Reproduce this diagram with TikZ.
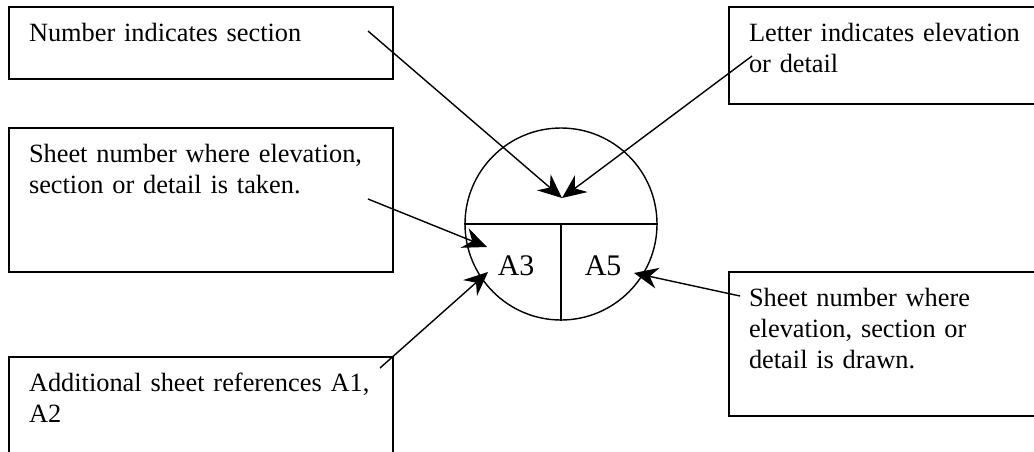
\documentclass[tikz,border=0pt]{standalone}
\usepackage{fontspec}
\setmainfont{Liberation Serif}
\usetikzlibrary{arrows.meta}
\hyphenpenalty=10000
\exhyphenpenalty=10000
\begin{document}
\begin{tikzpicture}[
	note/.style={draw, line width=0.9pt, anchor=north west, outer sep=0pt, inner xsep=0.4cm, inner ysep=0.32cm, text width=#1, align=left, text height=0.36cm, font=\fontsize{15}{17.7}\selectfont},
	pointer/.style={line width=0.8pt, -{Stealth[length=0.48cm, width=0.42cm, inset=0.16cm]}},
	sheet/.style={anchor=base, font=\fontsize{17}{20}\selectfont}
]
	        \clip (0, 0) rectangle (20.68, 9.02);
	        % text boxes
	        \node [note=6.88cm, text depth=0.44cm] at (0.18, 8.88) (Nsec) {Number indicates section};
	        \node [note=6.88cm, text depth=1.88cm] at (0.18, 6.46) (Taken) {Sheet number where elevation,\\ section or detail is taken.};
	        \node [note=6.88cm, text depth=1.40cm] at (0.18, 1.88) (Addl) {Additional sheet references A1,\\ A2};
	        \node [note=5.6cm, text depth=0.94cm] at (14.58, 8.88) (Lett) {Letter indicates elevation\\ or detail};
	        \node [note=5.6cm, text depth=1.88cm] at (14.58, 3.58) (Drawn) {Sheet number where\\ elevation, section or\\ detail is drawn.};
	        % section symbol
	        \node [draw, circle, line width=0.8pt, minimum size=3.84cm, inner sep=0pt] at (11.22, 4.54) (Ref) {};
	        \draw [line width=0.8pt] (Ref.west) -- (Ref.east);
	        \draw [line width=0.8pt] (Ref.center) -- (Ref.south);
	        \node [sheet] at (10.32, 3.52) (SheetL) {A3};
	        \node [sheet] at (12.06, 3.52) (SheetR) {A5};
	        % arrow ends
	        \coordinate (NsecS) at (7.36, 8.40);
	        \coordinate (LettS) at (15.04, 7.90);
	        \coordinate (TakenS) at (7.36, 5.04);
	        \coordinate (AddlS) at (7.60, 1.66);
	        \coordinate (DrawnS) at (14.80, 3.10);
	        \coordinate (Top) at (11.24, 5.06);
	        \coordinate (TakenT) at (9.74, 4.08);
	        \coordinate (AddlT) at (9.76, 3.58);
	        \coordinate (DrawnT) at (12.68, 3.56);
	        \draw [pointer] (NsecS) -- (Top);
	        \draw [pointer] (LettS) -- (Top);
	        \draw [pointer] (TakenS) -- (TakenT);
	        \draw [pointer] (AddlS) -- (AddlT);
	        \draw [pointer] (DrawnS) -- (DrawnT);
\end{tikzpicture}
\end{document}
